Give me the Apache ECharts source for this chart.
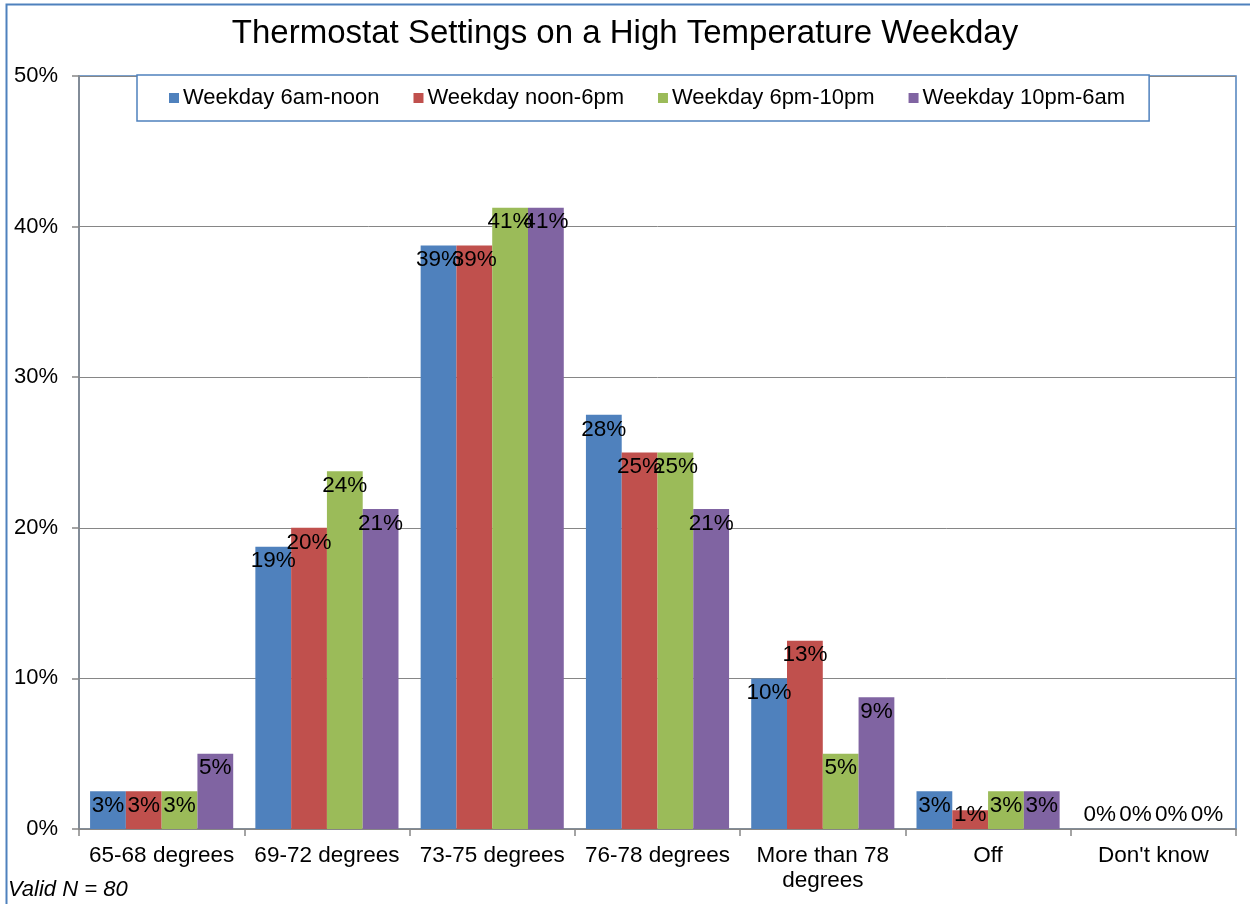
<!DOCTYPE html>
<html>
<head>
<meta charset="utf-8">
<script src="https://cdn.jsdelivr.net/npm/echarts@6/dist/echarts.min.js"></script>
<style>
  html, body { margin: 0; padding: 0; background: #fff; }
  #chart { width: 1250px; height: 904px; }
</style>
</head>
<body>
<div id="chart"></div>
<script>
// Thermostat setting categories
const categories = ['65-68 degrees', '69-72 degrees', '73-75 degrees', '76-78 degrees',
                    'More than 78\ndegrees', 'Off', "Don't know"];

// Share of respondents (percent), Valid N = 80
const seriesNames = ['Weekday 6am-noon', 'Weekday noon-6pm', 'Weekday 6pm-10pm', 'Weekday 10pm-6am'];
const morning   = [2.5, 18.75, 38.75, 27.5, 10,   2.5,  0];
const afternoon = [2.5, 20,    38.75, 25,   12.5, 1.25, 0];
const evening   = [2.5, 23.75, 41.25, 25,   5,    2.5,  0];
const overnight = [5,   21.25, 41.25, 21.25, 8.75, 2.5, 0];

const yTicks = [0, 10, 20, 30, 40, 50];
const colors = ['#4F81BD', '#C0504D', '#9BBB59', '#8064A2'];
const FONT = '"Liberation Sans", Arial, sans-serif';

// Labels sit just inside the bar top; short bars keep the label above the baseline
function toItems(values) {
  return values.map(v => ({
    value: v,
    label: v < 2 ? { position: 'insideBottom', distance: 3 } : { position: 'insideTop', distance: 3 }
  }));
}

const allSeries = [morning, afternoon, evening, overnight].map((vals, i) => ({
  name: seriesNames[i],
  type: 'bar',
  barGap: '0%',
  barCategoryGap: '13.4%',
  itemStyle: { color: colors[i] },
  label: {
    show: true,
    color: '#000',
    fontFamily: FONT,
    fontSize: 22.5,
    formatter: p => Math.round(p.value) + '%'
  },
  data: toItems(vals)
}));

const chart = echarts.init(document.getElementById('chart'), null, { renderer: 'canvas' });
chart.setOption({
  animation: false,
  backgroundColor: '#fff',
  color: colors,
  title: [{
    text: 'Thermostat Settings on a High Temperature Weekday',
    left: 'center',
    top: 12,
    textStyle: { fontFamily: FONT, fontSize: 33, fontWeight: 'normal', color: '#000' }
  }, {
    text: 'Valid N = 80',
    left: 8,
    top: 879,
    padding: 0,
    textStyle: { fontFamily: FONT, fontSize: 22, fontStyle: 'italic', fontWeight: 'normal', color: '#000' }
  }],
  graphic: [{
    type: 'rect',
    shape: { x: 6.5, y: 4.5, width: 1300, height: 1000 },
    style: { fill: 'none', stroke: '#4F81BD', lineWidth: 2 },
    silent: true,
    z: -1
  }],
  legend: {
    left: 137,
    top: 75,
    padding: [12, 24, 12, 32],
    itemGap: 34,
    itemWidth: 10,
    itemHeight: 10,
    icon: 'rect',
    borderColor: '#4F81BD',
    borderWidth: 1.5,
    backgroundColor: '#fff',
    textStyle: { fontFamily: FONT, fontSize: 22, color: '#000', padding: [0, 0, 0, -1] },
    data: seriesNames,
    z: 10
  },
  grid: {
    left: 79,
    right: 14,
    top: 76,
    bottom: 75,
    show: true,
    borderColor: '#4F81BD',
    borderWidth: 1.5,
    backgroundColor: 'transparent'
  },
  xAxis: {
    type: 'category',
    data: categories,
    axisLine: { lineStyle: { color: '#868686', width: 1.5 } },
    axisTick: { show: true, length: 7, lineStyle: { color: '#868686', width: 1.5 } },
    axisLabel: { fontFamily: FONT, fontSize: 22.5, color: '#000', margin: 14, lineHeight: 25, interval: 0 }
  },
  yAxis: {
    type: 'value',
    min: yTicks[0],
    max: yTicks[yTicks.length - 1],
    interval: 10,
    axisLine: { show: true, lineStyle: { color: '#868686', width: 1.5 } },
    axisTick: { show: true, length: 7, lineStyle: { color: '#868686', width: 1.5 } },
    splitLine: { show: true, lineStyle: { color: '#868686', width: 1 } },
    axisLabel: { fontFamily: FONT, fontSize: 22, color: '#000', margin: 21, formatter: '{value}%' }
  },
  series: allSeries
});
</script>
</body>
</html>
